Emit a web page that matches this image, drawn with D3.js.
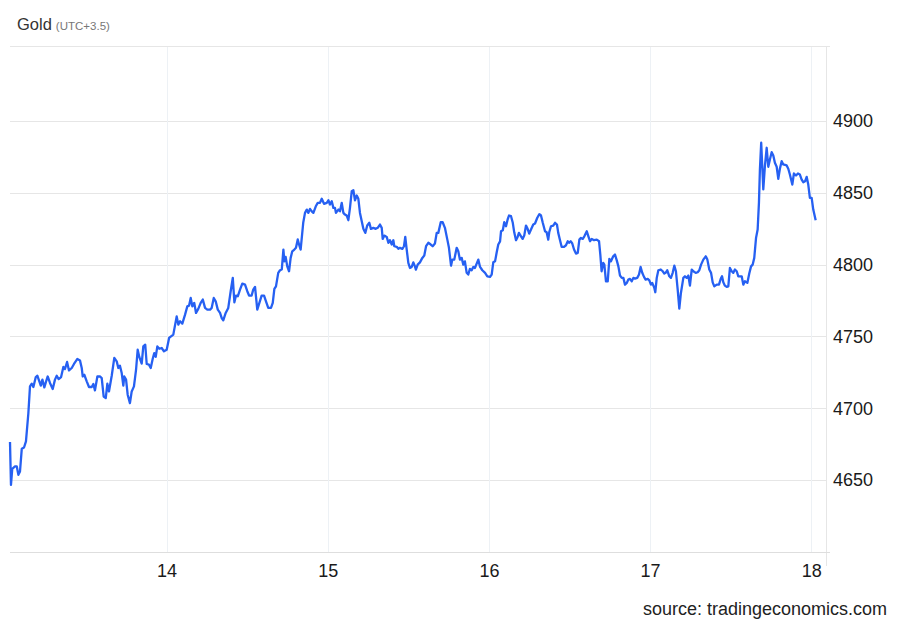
<!DOCTYPE html>
<html>
<head>
<meta charset="utf-8">
<script src="https://cdn.jsdelivr.net/npm/d3@7"></script>
<style>
  body { margin: 0; background: #fff; }
  svg { font-family: "Liberation Sans", Arial, sans-serif; }
</style>
</head>
<body>
<div id="chart"></div>
<script>
// day of month (fractional, UTC+3.5) and price
const goldSeries = [
  [13.029,4676.5],[13.035,4646.7],[13.043,4657.9],[13.060,4659.5],[13.071,4659.5],[13.081,4653.7],
  [13.091,4656.0],[13.102,4671.8],[13.116,4672.7],[13.128,4676.9],[13.143,4696.7],[13.153,4715.2],
  [13.164,4717.1],[13.174,4714.8],[13.189,4721.7],[13.199,4722.6],[13.211,4718.7],[13.220,4715.7],
  [13.230,4719.9],[13.242,4714.5],[13.253,4718.7],[13.263,4722.1],[13.277,4717.6],[13.294,4713.4],
  [13.308,4719.9],[13.319,4722.6],[13.331,4720.3],[13.346,4721.7],[13.360,4728.7],[13.370,4727.3],
  [13.383,4732.2],[13.395,4726.3],[13.412,4728.0],[13.426,4730.8],[13.447,4734.3],[13.463,4733.3],
  [13.474,4728.0],[13.480,4722.1],[13.490,4723.3],[13.505,4718.7],[13.519,4714.8],[13.536,4714.8],
  [13.546,4716.9],[13.556,4712.4],[13.571,4722.1],[13.587,4722.1],[13.598,4721.0],[13.610,4708.2],
  [13.623,4707.1],[13.633,4717.1],[13.643,4711.7],[13.660,4722.6],[13.676,4735.0],[13.691,4732.6],
  [13.701,4728.0],[13.711,4729.6],[13.722,4724.5],[13.732,4715.7],[13.738,4722.1],[13.749,4719.9],
  [13.759,4709.4],[13.773,4703.6],[13.784,4711.7],[13.798,4715.2],[13.811,4726.8],[13.821,4740.7],
  [13.831,4735.7],[13.846,4731.0],[13.856,4743.0],[13.868,4744.2],[13.877,4730.8],[13.891,4730.3],
  [13.902,4728.0],[13.914,4734.3],[13.924,4738.4],[13.933,4735.7],[13.943,4743.0],[13.955,4741.4],
  [13.970,4741.9],[13.984,4739.6],[14.001,4740.7],[14.016,4748.9],[14.042,4751.2],[14.063,4763.9],
  [14.073,4758.2],[14.084,4760.5],[14.098,4758.9],[14.115,4765.1],[14.129,4770.9],[14.140,4771.4],
  [14.150,4776.7],[14.160,4770.9],[14.172,4773.3],[14.183,4766.3],[14.197,4769.1],[14.212,4773.3],
  [14.225,4775.6],[14.239,4769.8],[14.253,4768.6],[14.270,4768.6],[14.280,4769.8],[14.293,4776.7],
  [14.305,4774.4],[14.318,4768.6],[14.332,4766.3],[14.342,4762.8],[14.352,4761.2],[14.367,4766.3],
  [14.383,4769.8],[14.398,4781.4],[14.411,4790.7],[14.421,4773.7],[14.431,4778.4],[14.442,4777.9],
  [14.456,4782.5],[14.470,4786.7],[14.487,4786.0],[14.501,4781.4],[14.512,4778.4],[14.528,4778.4],
  [14.538,4782.5],[14.549,4784.4],[14.563,4768.6],[14.576,4773.3],[14.590,4778.4],[14.605,4778.4],
  [14.617,4774.4],[14.631,4769.8],[14.648,4769.8],[14.659,4773.3],[14.669,4783.0],[14.679,4784.8],
  [14.693,4794.2],[14.704,4796.0],[14.715,4796.5],[14.725,4810.4],[14.731,4802.2],[14.739,4805.3],
  [14.749,4798.7],[14.760,4795.3],[14.770,4804.6],[14.780,4809.2],[14.793,4810.4],[14.803,4811.6],
  [14.814,4817.4],[14.822,4813.9],[14.832,4810.4],[14.842,4822.0],[14.848,4829.0],[14.859,4835.9],
  [14.870,4838.2],[14.880,4835.9],[14.890,4838.7],[14.901,4837.0],[14.911,4835.9],[14.926,4840.5],
  [14.938,4842.9],[14.952,4842.9],[14.963,4845.7],[14.977,4842.2],[14.994,4842.9],[15.004,4844.7],
  [15.014,4841.7],[15.025,4844.0],[15.035,4839.4],[15.045,4839.4],[15.051,4835.9],[15.066,4838.2],
  [15.076,4837.0],[15.087,4842.9],[15.097,4835.9],[15.107,4834.7],[15.118,4834.0],[15.128,4830.8],
  [15.138,4839.4],[15.149,4851.0],[15.159,4851.7],[15.169,4844.7],[15.180,4848.0],[15.190,4845.7],
  [15.200,4835.9],[15.211,4830.1],[15.221,4824.8],[15.233,4822.0],[15.245,4827.1],[15.258,4829.0],
  [15.268,4824.8],[15.283,4825.5],[15.298,4824.8],[15.310,4825.5],[15.324,4827.8],[15.335,4825.5],
  [15.341,4817.8],[15.351,4820.1],[15.366,4819.2],[15.376,4815.1],[15.386,4816.9],[15.397,4813.9],
  [15.407,4816.9],[15.413,4812.7],[15.428,4812.3],[15.438,4810.9],[15.448,4811.6],[15.463,4810.9],
  [15.473,4812.7],[15.481,4819.2],[15.490,4810.4],[15.500,4801.1],[15.510,4797.6],[15.521,4798.3],
  [15.531,4801.5],[15.541,4798.7],[15.547,4796.4],[15.558,4799.9],[15.572,4801.5],[15.587,4804.6],
  [15.599,4806.2],[15.610,4812.7],[15.624,4815.1],[15.639,4813.9],[15.651,4812.7],[15.665,4814.6],
  [15.676,4822.0],[15.686,4822.0],[15.701,4829.4],[15.713,4829.4],[15.727,4825.5],[15.742,4817.3],
  [15.752,4811.6],[15.765,4799.2],[15.773,4803.4],[15.785,4803.4],[15.800,4811.6],[15.810,4809.2],
  [15.820,4803.4],[15.831,4804.6],[15.841,4799.9],[15.851,4802.2],[15.862,4794.2],[15.872,4793.0],
  [15.882,4797.0],[15.893,4796.0],[15.903,4798.3],[15.913,4797.6],[15.924,4800.6],[15.934,4803.4],
  [15.945,4798.3],[15.959,4796.0],[15.976,4794.2],[15.990,4791.8],[16.007,4791.4],[16.017,4793.0],
  [16.027,4801.5],[16.038,4802.2],[16.048,4808.3],[16.058,4813.9],[16.069,4816.1],[16.075,4823.1],
  [16.086,4823.8],[16.095,4829.4],[16.106,4826.6],[16.116,4831.3],[16.125,4834.1],[16.137,4833.6],
  [16.148,4829.0],[16.157,4822.4],[16.168,4816.9],[16.178,4819.2],[16.186,4822.0],[16.199,4819.6],
  [16.209,4817.8],[16.219,4820.1],[16.230,4827.1],[16.240,4824.8],[16.250,4821.5],[16.261,4824.3],
  [16.275,4827.8],[16.286,4828.5],[16.300,4832.5],[16.313,4835.0],[16.323,4834.1],[16.334,4829.0],
  [16.348,4823.1],[16.358,4822.4],[16.368,4817.3],[16.374,4822.4],[16.385,4826.6],[16.399,4827.1],
  [16.410,4829.0],[16.422,4827.8],[16.430,4822.0],[16.441,4816.9],[16.451,4812.3],[16.466,4812.3],
  [16.478,4813.4],[16.489,4816.2],[16.497,4815.1],[16.507,4816.2],[16.517,4814.6],[16.528,4810.4],
  [16.540,4807.6],[16.551,4808.1],[16.561,4817.3],[16.571,4818.5],[16.582,4817.8],[16.592,4819.6],
  [16.607,4823.1],[16.617,4819.6],[16.627,4816.2],[16.638,4817.8],[16.652,4816.9],[16.669,4817.3],
  [16.683,4816.2],[16.691,4806.9],[16.699,4795.3],[16.709,4801.1],[16.716,4799.9],[16.726,4788.3],
  [16.737,4788.3],[16.747,4803.9],[16.757,4802.2],[16.771,4805.7],[16.782,4806.9],[16.793,4802.9],
  [16.803,4798.7],[16.813,4792.3],[16.824,4790.7],[16.834,4790.7],[16.844,4786.0],[16.855,4787.2],
  [16.865,4789.5],[16.875,4790.0],[16.886,4788.3],[16.896,4790.7],[16.906,4790.2],[16.920,4790.7],
  [16.931,4793.0],[16.941,4798.3],[16.951,4794.2],[16.962,4791.4],[16.972,4789.5],[16.985,4790.0],
  [16.995,4789.0],[17.005,4786.0],[17.013,4787.2],[17.026,4783.7],[17.032,4780.7],[17.041,4790.7],
  [17.051,4796.0],[17.066,4796.5],[17.078,4795.3],[17.088,4793.7],[17.096,4794.2],[17.106,4796.0],
  [17.119,4791.8],[17.129,4790.7],[17.140,4794.2],[17.150,4799.2],[17.160,4795.3],[17.171,4782.5],
  [17.181,4769.3],[17.191,4780.2],[17.206,4790.7],[17.216,4791.8],[17.227,4790.7],[17.237,4792.3],
  [17.247,4785.3],[17.258,4796.5],[17.268,4795.3],[17.283,4794.2],[17.295,4794.6],[17.305,4796.0],
  [17.316,4799.9],[17.330,4803.4],[17.345,4805.7],[17.355,4803.4],[17.367,4796.5],[17.378,4794.2],
  [17.388,4787.6],[17.398,4784.8],[17.413,4786.0],[17.427,4786.0],[17.438,4790.0],[17.446,4791.8],
  [17.454,4787.6],[17.464,4785.3],[17.475,4784.4],[17.485,4784.8],[17.495,4797.6],[17.506,4795.3],
  [17.516,4794.2],[17.526,4796.5],[17.537,4795.3],[17.547,4791.8],[17.568,4791.8],[17.578,4786.0],
  [17.588,4788.3],[17.603,4787.2],[17.615,4793.7],[17.626,4798.7],[17.636,4799.9],[17.646,4804.6],
  [17.657,4818.5],[17.667,4824.3],[17.675,4842.9],[17.681,4866.1],[17.689,4884.7],[17.702,4852.2],
  [17.712,4868.4],[17.723,4881.2],[17.733,4868.0],[17.743,4873.1],[17.754,4878.1],[17.764,4875.8],
  [17.774,4870.8],[17.785,4868.0],[17.795,4859.6],[17.805,4866.6],[17.816,4871.9],[17.826,4869.6],
  [17.847,4868.9],[17.857,4866.6],[17.867,4862.6],[17.882,4855.6],[17.892,4863.3],[17.905,4861.9],
  [17.917,4863.3],[17.929,4862.6],[17.940,4859.1],[17.950,4857.2],[17.961,4857.9],[17.971,4861.0],
  [17.981,4855.6],[17.991,4846.4],[18.002,4846.4],[18.012,4838.2],[18.027,4830.8]
];

const xTicks = [14, 15, 16, 17, 18];
const yTicks = [4650, 4700, 4750, 4800, 4850, 4900];
const xDomain = [13.029, 18.091];
const yDomain = [4600, 4952];
const titleText = "Gold";
const subtitleText = "(UTC+3.5)";
const sourceText = "source: tradingeconomics.com";

const width = 900, height = 624;
const margin = {top: 46, right: 74, bottom: 72, left: 10};

const svg = d3.select("#chart").append("svg")
    .attr("width", width)
    .attr("height", height);

const x = d3.scaleLinear()
    .domain(xDomain)
    .range([margin.left, width - margin.right]);

const y = d3.scaleLinear()
    .domain(yDomain)
    .range([height - margin.bottom, margin.top]);

// horizontal grid
svg.append("g")
    .selectAll("line")
    .data(yTicks)
    .join("line")
    .attr("x1", margin.left)
    .attr("x2", width - margin.right)
    .attr("y1", d => Math.round(y(d)) + 0.5)
    .attr("y2", d => Math.round(y(d)) + 0.5)
    .attr("stroke", "#e6e6e6");

// vertical grid
svg.append("g")
    .selectAll("line")
    .data(xTicks)
    .join("line")
    .attr("x1", d => Math.round(x(d)) + 0.5)
    .attr("x2", d => Math.round(x(d)) + 0.5)
    .attr("y1", margin.top)
    .attr("y2", height - margin.bottom)
    .attr("stroke", "#edf1f5");

// frame: top, right and bottom lines
svg.append("line")
    .attr("x1", margin.left).attr("x2", width - margin.right + 4)
    .attr("y1", margin.top + 0.5).attr("y2", margin.top + 0.5)
    .attr("stroke", "#e6e6e6");
svg.append("line")
    .attr("x1", width - margin.right + 0.5).attr("x2", width - margin.right + 0.5)
    .attr("y1", margin.top).attr("y2", height - margin.bottom + 14)
    .attr("stroke", "#e6e6e6");
svg.append("line")
    .attr("x1", margin.left).attr("x2", width - margin.right + 4)
    .attr("y1", height - margin.bottom + 0.5).attr("y2", height - margin.bottom + 0.5)
    .attr("stroke", "#dedede");

// x axis labels
const xAxis = d3.axisBottom(x).tickValues(xTicks).tickFormat(d => d).tickSize(0).tickPadding(12);
const gx = svg.append("g")
    .attr("transform", `translate(0,${height - margin.bottom})`)
    .call(xAxis);
gx.select(".domain").remove();
gx.selectAll("text")
    .attr("font-size", 18)
    .attr("fill", "#1a1a1a")
    .attr("font-family", "'Liberation Sans', Arial, sans-serif");

// y axis labels on the right
const yAxis = d3.axisRight(y).tickValues(yTicks).tickFormat(d => d).tickSize(0).tickPadding(7);
const gy = svg.append("g")
    .attr("transform", `translate(${width - margin.right},0)`)
    .call(yAxis);
gy.select(".domain").remove();
gy.selectAll("text")
    .attr("font-size", 18)
    .attr("fill", "#1a1a1a")
    .attr("font-family", "'Liberation Sans', Arial, sans-serif");

// price line
const line = d3.line()
    .x(d => x(d[0]))
    .y(d => y(d[1]));

svg.append("path")
    .datum(goldSeries)
    .attr("d", line)
    .attr("fill", "none")
    .attr("stroke", "#2660f2")
    .attr("stroke-width", 2.3)
    .attr("stroke-linejoin", "round");

// title
const title = svg.append("text")
    .attr("x", 17)
    .attr("y", 30)
    .attr("fill", "#333")
    .attr("font-size", 16.5);
title.append("tspan").text(titleText);
title.append("tspan")
    .attr("dx", 4)
    .attr("font-size", 11.5)
    .attr("fill", "#777")
    .text(subtitleText);

// source
svg.append("text")
    .attr("x", 887)
    .attr("y", 615)
    .attr("text-anchor", "end")
    .attr("fill", "#222")
    .attr("font-size", 18)
    .text(sourceText);
</script>
</body>
</html>
